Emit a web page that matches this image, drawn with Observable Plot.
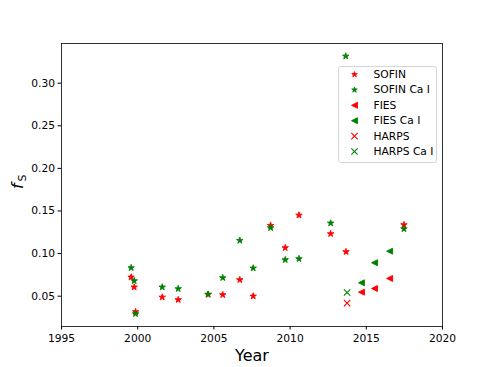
<!DOCTYPE html>
<html><head><meta charset="utf-8">
<script src="https://cdn.jsdelivr.net/npm/d3@7"></script>
<script src="https://cdn.jsdelivr.net/npm/@observablehq/plot@0.6"></script>
<style>body{margin:0;background:#fff}</style>
</head><body><div id="chart"></div>
<script>
// ---- data ----
const sofinYear   = [1999.57, 1999.77, 1999.86, 2001.61, 2002.66, 2004.62, 2005.58, 2006.70, 2007.58, 2008.72, 2009.68, 2010.58, 2012.66, 2013.67, 2017.47];
const sofinF      = [0.0723, 0.0606, 0.0317, 0.0488, 0.0458, 0.0520, 0.0516, 0.0692, 0.0500, 0.1330, 0.1068, 0.1450, 0.1232, 0.1021, 0.1338];
const sofinCaYear = [1999.57, 1999.77, 1999.86, 2001.61, 2002.66, 2004.62, 2005.58, 2006.70, 2007.58, 2008.72, 2009.68, 2010.58, 2012.66, 2013.65, 2017.47];
const sofinCaF    = [0.0833, 0.0680, 0.0293, 0.0606, 0.0587, 0.0522, 0.0716, 0.1154, 0.0829, 0.1303, 0.0927, 0.0939, 0.1357, 0.3317, 0.1290];
const fiesYear    = [2014.68, 2015.54, 2016.53];
const fiesF       = [0.0547, 0.0590, 0.0708];
const fiesCaYear  = [2014.68, 2015.54, 2016.53];
const fiesCaF     = [0.0657, 0.0892, 0.1028];
const harpsYear   = [2013.74];
const harpsF      = [0.0418];
const harpsCaYear = [2013.74];
const harpsCaF    = [0.0543];
const seriesNames = ["SOFIN", "SOFIN Ca I", "FIES", "FIES Ca I", "HARPS", "HARPS Ca I"];
const xTicks = [1995, 2000, 2005, 2010, 2015, 2020];
const yTicks = [0.05, 0.10, 0.15, 0.20, 0.25, 0.30];

// ---- marker shapes (matplotlib-like) ----
const starSym = {draw(ctx, size) {
  const R = Math.sqrt(size / Math.PI), r = R * 0.382;
  for (let i = 0; i < 10; i++) {
    const a = -Math.PI / 2 + i * Math.PI / 5, d = i % 2 ? r : R;
    const x = d * Math.cos(a), y = d * Math.sin(a);
    if (i) ctx.lineTo(x, y); else ctx.moveTo(x, y);
  }
  ctx.closePath();
}};
const triLeftSym = {draw(ctx, size) {
  const R = Math.sqrt(size / Math.PI);
  ctx.moveTo(-R, 0); ctx.lineTo(R, -R); ctx.lineTo(R, R); ctx.closePath();
}};
const timesSym = {draw(ctx, size) {
  const R = Math.sqrt(size / Math.PI);
  ctx.moveTo(-R, -R); ctx.lineTo(R, R); ctx.moveTo(-R, R); ctx.lineTo(R, -R);
}};

const red = "#ff0000", green = "#008000";
const series = [
  {name: seriesNames[0], x: sofinYear,   y: sofinF,   color: red,   symbol: starSym,    r: 3.4, lr: 2.9, filled: true},
  {name: seriesNames[1], x: sofinCaYear, y: sofinCaF, color: green, symbol: starSym,    r: 3.4, lr: 2.9, filled: true},
  {name: seriesNames[2], x: fiesYear,    y: fiesF,    color: red,   symbol: triLeftSym, r: 3.0, lr: 3.0, filled: true},
  {name: seriesNames[3], x: fiesCaYear,  y: fiesCaF,  color: green, symbol: triLeftSym, r: 3.0, lr: 3.0, filled: true},
  {name: seriesNames[4], x: harpsYear,   y: harpsF,   color: red,   symbol: timesSym,   r: 3.2, lr: 3.2, filled: false},
  {name: seriesNames[5], x: harpsCaYear, y: harpsCaF, color: green, symbol: timesSym,   r: 3.2, lr: 3.2, filled: false}
];

function dotStyle(s) {
  return s.filled
    ? {fill: s.color, stroke: s.color, strokeWidth: 0.9, strokeLinejoin: "miter"}
    : {fill: "none", stroke: s.color, strokeWidth: 1.1};
}

const dataMarks = series.map(s =>
  Plot.dot(s.x.map((x, i) => ({x, y: s.y[i]})), {x: "x", y: "y", symbol: s.symbol, r: s.r, ...dotStyle(s)})
);

const legendMarks = [
  Plot.frame({insetLeft: 277, insetRight: 6, insetTop: 23, insetBottom: 164, rx: 2.5, fill: "white", fillOpacity: 0.8, stroke: "#cccccc", strokeWidth: 0.8})
];
series.forEach((s, i) => {
  const dy = 31 + i * 15.4;
  legendMarks.push(Plot.dot([s], {frameAnchor: "top-right", dx: -88, dy, symbol: s.symbol, r: s.lr, ...dotStyle(s)}));
  legendMarks.push(Plot.text([s.name], {frameAnchor: "top-right", dx: -69, dy, text: d => d, textAnchor: "start", lineAnchor: "middle", fontSize: 10.7, fill: "black"}));
});

const chart = Plot.plot({
  width: 491, height: 367,
  marginLeft: 61, marginRight: 49, marginTop: 43, marginBottom: 41,
  style: {fontFamily: "DejaVu Sans", fontSize: "10.7px", background: "white", color: "black", overflow: "visible"},
  x: {domain: [1995, 2020]},
  y: {domain: [0.0144, 0.3466]},
  marks: [
    ...dataMarks,
    Plot.axisX({ticks: xTicks, tickFormat: "d", tickSize: 3.5, tickPadding: 4, label: null, fontSize: 10.7, stroke: "black"}),
    Plot.axisY({ticks: yTicks, tickFormat: ".2f", tickSize: 3.5, tickPadding: 3, label: null, fontSize: 10.7, stroke: "black"}),
    Plot.frame({stroke: "black", strokeWidth: 0.8}),
    Plot.text(["Year"], {frameAnchor: "bottom", dy: 29, text: d => d, lineAnchor: "middle", fontSize: 16, fill: "black"}),
    Plot.text(["f"], {frameAnchor: "left", dx: -44, dy: 4, text: d => d, rotate: -90, lineAnchor: "middle", fontSize: 16, fontStyle: "italic", fill: "black"}),
    Plot.text(["S"], {frameAnchor: "left", dx: -39.5, dy: -3.5, text: d => d, rotate: -90, lineAnchor: "middle", fontSize: 11, fill: "black"}),
    ...legendMarks
  ]
});
document.getElementById("chart").appendChild(chart);
</script>
</body></html>
